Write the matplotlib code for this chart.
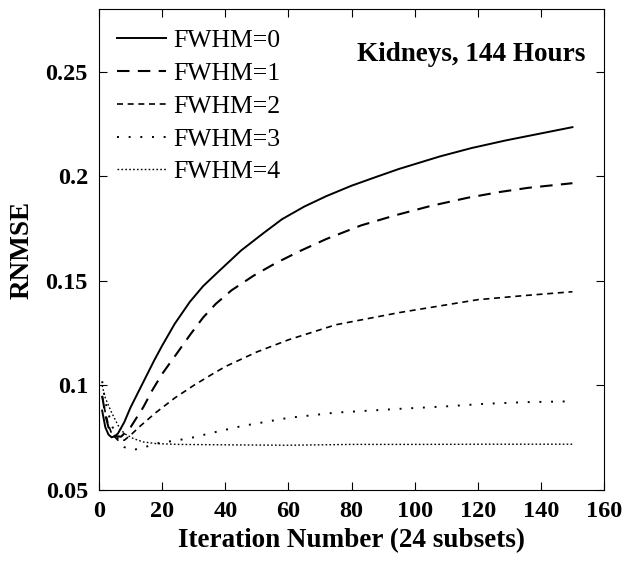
import matplotlib
matplotlib.use('Agg')
import matplotlib.pyplot as plt

plt.rcParams['font.family'] = ['Liberation Serif', 'DejaVu Serif']

# FWHM = 0 .. 4, RNMSE vs iteration number
iter_0 = [1, 2, 3, 4, 5, 6, 8, 10, 12.5, 15, 17.5, 20, 24, 28.8, 33, 37.4, 45, 52, 58, 65, 72, 80, 88, 95,
          108, 118, 129, 140, 150]
rnmse_0 = [0.088, 0.080, 0.0765, 0.0752, 0.0757, 0.077, 0.0824, 0.0895, 0.097, 0.1045, 0.112, 0.119, 0.1295,
           0.140, 0.1475, 0.1538, 0.1645, 0.1727, 0.1795, 0.1855, 0.1905, 0.1955, 0.1998, 0.2035,
           0.2095, 0.2135, 0.2172, 0.2205, 0.2235]

iter_1 = [1, 2, 3, 5, 7, 10, 14, 17, 20, 25, 29, 33, 37, 42, 49, 56, 64, 72, 83, 94, 105, 117, 127, 136, 150]
rnmse_1 = [0.095, 0.086, 0.080, 0.0758, 0.0755, 0.080, 0.0895, 0.098, 0.1055, 0.116, 0.1245, 0.1325, 0.139,
           0.1455, 0.1525, 0.1585, 0.1645, 0.170, 0.1765, 0.1814, 0.1858, 0.1898, 0.1925, 0.1945, 0.1967]

iter_2 = [1, 2, 3, 4, 6, 8, 10, 13, 18, 24, 30, 36, 40, 50, 60, 75, 95, 120, 135, 150]
rnmse_2 = [0.095, 0.087, 0.081, 0.077, 0.0738, 0.0738, 0.0762, 0.0805, 0.087, 0.094, 0.1, 0.1055, 0.109, 0.116,
           0.1218, 0.129, 0.1348, 0.141, 0.143, 0.1448]

iter_3 = [1, 2, 4, 6, 8, 11, 14, 19, 25, 30, 36, 45, 60, 75, 95, 110, 122, 135, 150]
rnmse_3 = [0.102, 0.092, 0.081, 0.0745, 0.0705, 0.0692, 0.0703, 0.0725, 0.0738, 0.0752, 0.0774, 0.0805, 0.0845,
           0.087, 0.0888, 0.090, 0.0912, 0.092, 0.0924]

iter_4 = [1, 2, 4, 6, 8, 11, 14, 18, 25, 40, 60, 80, 100, 125, 150]
rnmse_4 = [0.100, 0.094, 0.087, 0.081, 0.077, 0.0745, 0.073, 0.0722, 0.0718, 0.0716, 0.0714, 0.0718, 0.0718,
           0.0719, 0.0719]

labels = ['FWHM=0', 'FWHM=1', 'FWHM=2', 'FWHM=3', 'FWHM=4']
xticks = [0, 20, 40, 60, 80, 100, 120, 140, 160]
yticks = [0.05, 0.1, 0.15, 0.2, 0.25]
ytick_labels = ['0.05', '0.1', '0.15', '0.2', '0.25']

fig = plt.figure(figsize=(6.29, 5.61), dpi=100)
ax = fig.add_axes([99 / 629, 1 - 490 / 561, 505 / 629, 481 / 561])

ax.plot(iter_0, rnmse_0, color='black', lw=1.4, ls='-', label=labels[0])
ax.plot(iter_1, rnmse_1, color='black', lw=1.5, ls=(0, (6.0, 4.0)), label=labels[1])
ax.plot(iter_2, rnmse_2, color='black', lw=1.2, ls=(0, (3.6, 2.8)), label=labels[2])
ax.plot(iter_3, rnmse_3, color='black', lw=1.4, ls=(0, (1.0, 5.0)), label=labels[3])
ax.plot(iter_4, rnmse_4, color='black', lw=1.0, ls=(0, (1.2, 1.6)), label=labels[4])

ax.set_xlim(0, 160)
ax.set_ylim(0.05, 0.28)
ax.set_xticks(xticks)
ax.set_yticks(yticks)
ax.set_yticklabels(ytick_labels)
ax.tick_params(direction='in', length=6, width=0.8, top=True, right=True, labelsize=17.5, pad=8)
for lab in ax.get_xticklabels() + ax.get_yticklabels():
    lab.set_fontweight('bold')

ax.set_xlabel('Iteration Number (24 subsets)', fontsize=19.5, fontweight='bold', labelpad=4)
ax.set_ylabel('RNMSE', fontsize=19.5, fontweight='bold', labelpad=8)

ax.text(0.963, 0.906, 'Kidneys, 144 Hours', transform=ax.transAxes, ha='right', va='center',
        fontsize=19.5, fontweight='bold')

ax.legend(loc='upper left', bbox_to_anchor=(0.0, 0.995), frameon=False, fontsize=18.5,
          handlelength=1.9, handletextpad=0.3, labelspacing=0.38, borderpad=0.2)

fig.savefig('out.png', dpi=100)
